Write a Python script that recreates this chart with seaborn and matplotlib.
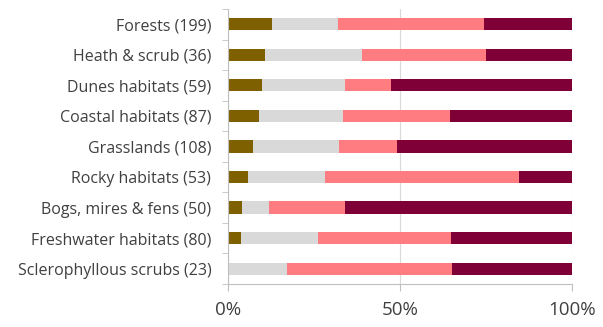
import matplotlib
matplotlib.use("Agg")
import matplotlib.pyplot as plt
import numpy as np
import pandas as pd
import seaborn as sns

categories = [
    "Forests (199)", "Heath & scrub (36)", "Dunes habitats (59)",
    "Coastal habitats (87)", "Grasslands (108)", "Rocky habitats (53)",
    "Bogs, mires & fens (50)", "Freshwater habitats (80)",
    "Sclerophyllous scrubs (23)",
]
# share of each category (%) in the four classes, left to right
class_a = [12.9, 10.9, 10.0, 9.0, 7.4, 5.7, 4.2, 3.7, 0.0]
class_b = [19.0, 28.2, 23.9, 24.3, 25.0, 22.6, 7.7, 22.5, 17.2]
class_c = [42.5, 35.9, 13.4, 31.2, 16.7, 56.4, 22.0, 38.5, 48.0]
class_d = [25.6, 25.0, 52.7, 35.5, 50.9, 15.3, 66.1, 35.3, 34.8]
colors = ["#7F6000", "#D9D9D9", "#FF7C80", "#7F0037"]
xtick_labels = ["0%", "50%", "100%"]

sns.set_style("white")
plt.rcParams["font.family"] = ["Open Sans", "DejaVu Sans"]

fig = plt.figure(figsize=(6.03, 3.27), dpi=100)
ax = fig.add_axes([0.378, 0.1315, 0.5706, 0.841])

layers = np.cumsum(np.array([class_a, class_b, class_c, class_d]), axis=0)
df = pd.DataFrame({"category": categories})
for i in range(3, -1, -1):
    df["v"] = layers[i]
    sns.barplot(data=df, x="v", y="category", color=colors[i], width=0.4,
                orient="h", saturation=1, ax=ax, edgecolor="none")

ax.set_xlim(0, 100)
ax.set_ylim(8.5, -0.5)
ax.set_xlabel("")
ax.set_ylabel("")
ax.set_xticks([0, 50, 100])
ax.set_xticklabels(xtick_labels, fontsize=13.5, color="#404040")
ax.xaxis.grid(True, color="#D9D9D9", linewidth=0.8)
ax.set_axisbelow(True)
ax.tick_params(axis="x", length=5, color="#BFBFBF", direction="out", pad=7,
               bottom=True)
ax.tick_params(axis="y", which="major", length=0, labelsize=11.5,
               labelcolor="#404040", pad=12)
ax.set_yticks(np.arange(-0.5, 9.0, 1.0), minor=True)
ax.tick_params(axis="y", which="minor", length=4, color="#BFBFBF",
               direction="out", left=True)
for side in ["top", "right"]:
    ax.spines[side].set_visible(False)
for side in ["left", "bottom"]:
    ax.spines[side].set_color("#BFBFBF")
    ax.spines[side].set_linewidth(0.8)

fig.savefig("out.png", dpi=100)
